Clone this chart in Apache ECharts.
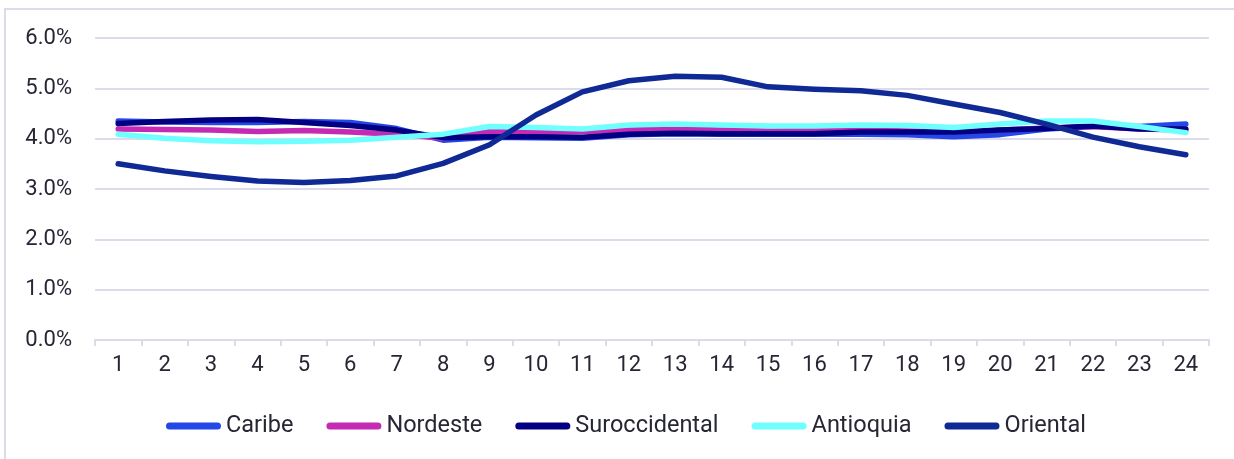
<!DOCTYPE html>
<html>
<head>
<meta charset="utf-8">
<script src="https://cdn.jsdelivr.net/npm/echarts@6/dist/echarts.min.js"></script>
<style>
html,body{margin:0;padding:0;background:#fff;}
#chart{width:1234px;height:459px;}
</style>
</head>
<body>
<div id="chart"></div>
<script>
const categories = ['1','2','3','4','5','6','7','8','9','10','11','12','13','14','15','16','17','18','19','20','21','22','23','24'];
const yTicks = [0, 1, 2, 3, 4, 5, 6];
const caribe = [4.35,4.33,4.32,4.32,4.34,4.32,4.20,3.97,4.03,4.02,4.01,4.08,4.10,4.09,4.09,4.09,4.09,4.08,4.04,4.08,4.19,4.24,4.24,4.29];
const nordeste = [4.19,4.18,4.17,4.14,4.16,4.13,4.09,4.01,4.14,4.13,4.14,4.17,4.19,4.17,4.15,4.16,4.17,4.15,4.14,4.17,4.21,4.24,4.19,4.17];
const suroccidental = [4.30,4.34,4.37,4.38,4.32,4.26,4.17,4.02,4.04,4.04,4.03,4.09,4.11,4.10,4.10,4.10,4.13,4.13,4.13,4.17,4.20,4.25,4.19,4.19];
const antioquia = [4.09,4.01,3.96,3.94,3.95,3.97,4.03,4.09,4.24,4.22,4.19,4.27,4.29,4.27,4.25,4.25,4.27,4.26,4.22,4.29,4.35,4.35,4.24,4.12];
const oriental = [3.50,3.36,3.25,3.16,3.13,3.17,3.26,3.51,3.88,4.47,4.93,5.15,5.24,5.22,5.03,4.98,4.95,4.86,4.69,4.52,4.29,4.03,3.84,3.68];

const seriesNames = ['Caribe','Nordeste','Suroccidental','Antioquia','Oriental'];
const seriesData = [caribe, nordeste, suroccidental, antioquia, oriental];
const colors = ['#2547E8','#C42AB4','#020080','#70FFFF','#102A95'];

const textColor = '#262635';
const gridColor = '#dcdbe9';
const font = 'Roboto';

const chart = echarts.init(document.getElementById('chart'), null, {renderer:'canvas'});
chart.setOption({
  animation: false,
  color: colors,
  graphic: [{
    type: 'rect',
    shape: {x: 5, y: 9, width: 1400, height: 600},
    style: {fill: 'none', stroke: gridColor, lineWidth: 2},
    silent: true
  }],
  grid: {left: 95, right: 25, top: 38, bottom: 119, containLabel: false},
  legend: {
    data: seriesNames,
    left: 161,
    top: 409,
    itemGap: 33,
    itemWidth: 55,
    itemHeight: 7,
    icon: 'path://M3.5,0 H51.5 A3.5,3.5 0 0 1 51.5,7 H3.5 A3.5,3.5 0 0 1 3.5,0 Z',
    textStyle: {color: textColor, fontSize: 23.5, fontFamily: font}
  },
  xAxis: {
    type: 'category',
    data: categories,
    boundaryGap: true,
    axisLine: {lineStyle: {color: gridColor, width: 2}},
    axisTick: {show: true, length: 6, lineStyle: {color: gridColor, width: 2}},
    axisLabel: {color: textColor, fontSize: 22, fontFamily: font, margin: 14}
  },
  yAxis: {
    type: 'value',
    min: yTicks[0],
    max: yTicks[yTicks.length-1],
    interval: 1,
    axisLine: {show: false},
    axisTick: {show: false},
    splitLine: {lineStyle: {color: gridColor, width: 2}},
    axisLabel: {color: textColor, fontSize: 22, fontFamily: font, margin: 23,
      formatter: v => v.toFixed(1) + '%'}
  },
  series: seriesNames.map((n, i) => ({
    name: n,
    type: 'line',
    data: seriesData[i],
    symbol: 'none',
    smooth: false,
    lineStyle: {width: 5.5, color: colors[i], cap: 'round', join: 'round'},
    itemStyle: {color: colors[i]}
  }))
});
</script>
</body>
</html>
